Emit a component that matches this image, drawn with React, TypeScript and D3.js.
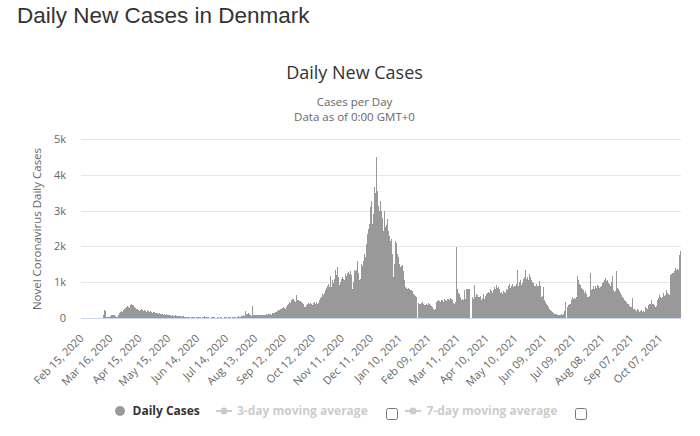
import React from "react";
import * as d3 from "d3";

// ---- data (daily new cases) ----
const startDate = "2020-02-15";
const feb2020 = [0,0,0,0,0,0,0,0,0,0,0,0,1,0,2];
const mar2020 = [1,0,1,5,5,9,5,12,90,235,190,40,15,20,30,60,80,95,90,70,50,30,40,70,140,160,190,200,180,230,260];
const apr2020 = [280,300,330,320,290,350,390,360,355,300,270,250,260,230,200,220,240,210,190,230,200,180,220,190,200,170,190,160,150,170];
const may2020 = [160,150,140,130,120,140,110,100,120,90,110,95,100,85,80,90,70,60,75,65,55,70,60,50,55,45,60,50,40,45,50];
const jun2020 = [35,20,30,25,40,15,10,30,25,20,35,10,15,30,20,25,15,5,20,30,10,65,25,15,20,30,10,5,20,25];
const jul2020 = [15,20,10,5,25,15,10,20,25,10,5,30,15,20,10,15,20,25,40,10,15,30,35,20,10,40,45,30,20,50,60];
const aug2020 = [70,50,185,120,100,130,110,90,60,335,90,85,95,80,75,70,85,90,95,80,85,75,70,90,100,80,110,120,100,90,140];
const sep2020 = [150,130,170,160,200,230,210,250,240,280,300,270,260,290,300,350,400,450,420,500,540,520,480,460,630,500,490,470,480,450];
const oct2020 = [420,380,300,320,350,400,420,380,410,390,350,400,420,440,380,450,400,420,500,560,600,680,640,700,780,850,900,960,870,1170,860];
const nov2020 = [1050,980,1100,1330,1200,1420,1150,910,770,1000,1080,1140,1100,1050,1230,1180,1260,1280,1240,1300,1200,820,1000,1330,1300,1350,1600,1250,1050,1100];
const dec2020 = [1500,1450,1600,1800,1700,2070,1900,2350,2500,2630,3090,3280,2630,2900,3650,3500,4490,3560,3140,3000,3270,3000,2800,2440,3000,2540,2600,2770,2440,2300,2160];
const jan2021 = [2200,1800,1140,1500,2070,2160,2100,1790,1700,1500,1420,1450,1470,1300,1050,860,840,820,830,800,790,770,760,680,650,620,600,0,420,400,380];
const feb2021 = [420,380,450,400,370,350,390,360,410,380,350,330,300,260,210,240,450,470,500,480,460,510,490,450,520,500,470,540];
const mar2021 = [520,540,500,560,530,500,420,400,450,1990,820,700,680,600,500,520,490,770,540,820,800,820,800,0,0,600,540,910,580,1176,680];
const apr2021 = [650,600,590,620,500,560,680,540,620,680,700,740,690,820,760,700,770,860,820,910,840,870,820,700,720,680,760,770,740,700];
const may2021 = [800,770,900,960,850,880,940,860,900,880,950,1330,900,1000,1050,920,980,1100,1140,1330,1100,1140,1050,1230,1140,1180,1060,1000,970,900,880];
const jun2021 = [950,900,880,1020,880,600,620,860,500,450,400,350,310,260,230,200,170,150,120,110,100,90,80,95,75,85,110,80,120,200];
const jul2021 = [450,0,310,360,400,380,500,590,520,560,540,600,1160,1065,950,920,850,800,780,700,760,640,680,600,590,620,1250,780,820,880,800];
const aug2021 = [900,850,920,880,830,860,900,970,1000,1060,1110,1020,1060,980,950,900,1000,1180,880,780,740,760,1320,830,800,760,690,640,600,560,500];
const sep2021 = [480,450,400,380,330,310,300,550,260,240,220,200,250,230,180,170,190,210,180,200,170,310,280,260,360,380,400,500,380,400];
const oct2021 = [350,310,330,500,560,640,590,550,600,690,620,650,780,740,700,660,640,1210,1230,1250,1260,1300,1400,1350,1380,1340,1750,1870];

const xTickLabels = [
  "Feb 15, 2020","Mar 16, 2020","Apr 15, 2020","May 15, 2020","Jun 14, 2020","Jul 14, 2020",
  "Aug 13, 2020","Sep 12, 2020","Oct 12, 2020","Nov 11, 2020","Dec 11, 2020","Jan 10, 2021",
  "Feb 09, 2021","Mar 11, 2021","Apr 10, 2021","May 10, 2021","Jun 09, 2021","Jul 09, 2021",
  "Aug 08, 2021","Sep 07, 2021","Oct 07, 2021",
];
const yTicks = [0, 1000, 2000, 3000, 4000, 5000];
const yTickLabels = ["0", "1k", "2k", "3k", "4k", "5k"];

const values: number[] = [
  feb2020, mar2020, apr2020, may2020, jun2020, jul2020, aug2020, sep2020, oct2020, nov2020, dec2020,
  jan2021, feb2021, mar2021, apr2021, may2021, jun2021, jul2021, aug2021, sep2021, oct2021,
].flat();
const parse = d3.utcParse("%Y-%m-%d");
const fmt = d3.utcFormat("%b %d, %Y");
const categories = values.map((_, i) => fmt(d3.utcDay.offset(parse(startDate)!, i)));

const W = 700, H = 436;
const plot = { left: 81, right: 681, top: 139, bottom: 318 };
const SANS = "'Open Sans', 'Noto Sans', sans-serif";

export default function App() {
  const x = d3.scaleBand<string>().domain(categories).range([plot.left, plot.right]).padding(0);
  const y = d3.scaleLinear().domain([0, 5000]).range([plot.bottom, plot.top]);
  const bw = x.bandwidth();
  const barColor = "#999999";

  return (
    <div style={{ position: "absolute", left: 0, top: 0 }}>
      <svg width={W} height={H} style={{ display: "block", background: "#fff" }}>
        <text x={17} y={23} fontFamily="'Liberation Sans', Arial, sans-serif" fontSize={22.5} fill="#333">
          Daily New Cases in Denmark
        </text>
        <text x={354.5} y={79} textAnchor="middle" fontFamily={SANS} fontSize={18} fill="#333">
          Daily New Cases
        </text>
        <text x={354.5} y={106} textAnchor="middle" fontFamily={SANS} fontSize={11.5} fill="#666">
          Cases per Day
        </text>
        <text x={354.5} y={120.5} textAnchor="middle" fontFamily={SANS} fontSize={11.5} fill="#666">
          Data as of 0:00 GMT+0
        </text>

        {/* gridlines */}
        {yTicks.slice(1).map((t) => (
          <line key={t} x1={plot.left} x2={plot.right} y1={Math.round(y(t)) + 0.5} y2={Math.round(y(t)) + 0.5}
            stroke="#e6e6e6" strokeWidth={1} />
        ))}
        {/* y labels */}
        {yTicks.map((t, i) => (
          <text key={t} x={66} y={y(t) + 4} textAnchor="end" fontFamily={SANS} fontSize={11} fill="#666">
            {yTickLabels[i]}
          </text>
        ))}
        <text transform={`translate(41,${(plot.top + plot.bottom) / 2 + 0.5}) rotate(-90)`} textAnchor="middle"
          fontFamily={SANS} fontSize={11.5} fill="#666">
          Novel Coronavirus Daily Cases
        </text>

        {/* bars */}
        <g shapeRendering="crispEdges">
          {values.map((v, i) => (
            <rect key={i} x={x(categories[i])!} width={bw} y={y(v)} height={Math.max(0, y(0) - y(v))} fill={barColor} />
          ))}
        </g>
        {/* x axis line */}
        <line x1={plot.left} x2={plot.right} y1={plot.bottom + 0.5} y2={plot.bottom + 0.5} stroke="#ccd6eb" strokeWidth={1} />

        {/* x labels */}
        {xTickLabels.map((lab) => {
          const cx = x(lab)! + bw / 2;
          return (
            <text key={lab} transform={`translate(${cx + 3},${plot.bottom + 21}) rotate(-45)`} textAnchor="end"
              fontFamily={SANS} fontSize={11} fill="#666">
              {lab}
            </text>
          );
        })}

        {/* legend */}
        <g fontFamily={SANS} fontSize={12} fontWeight="bold">
          <circle cx={120} cy={411} r={5} fill={barColor} />
          <text x={132.5} y={415} fill="#333">Daily Cases</text>

          <line x1={216} x2={232} y1={411} y2={411} stroke="#cccccc" strokeWidth={2} />
          <circle cx={224} cy={411} r={3.5} fill="#cccccc" />
          <text x={237} y={415} fill="#cccccc">3-day moving average</text>
          <rect x={386.5} y={408.5} width={11} height={11} rx={2} fill="#fff" stroke="#767676" />

          <line x1={405} x2={421} y1={411} y2={411} stroke="#cccccc" strokeWidth={2} />
          <circle cx={413} cy={411} r={3.5} fill="#cccccc" />
          <text x={426.5} y={415} fill="#cccccc">7-day moving average</text>
          <rect x={575.5} y={408.5} width={11} height={11} rx={2} fill="#fff" stroke="#767676" />
        </g>
      </svg>
    </div>
  );
}
